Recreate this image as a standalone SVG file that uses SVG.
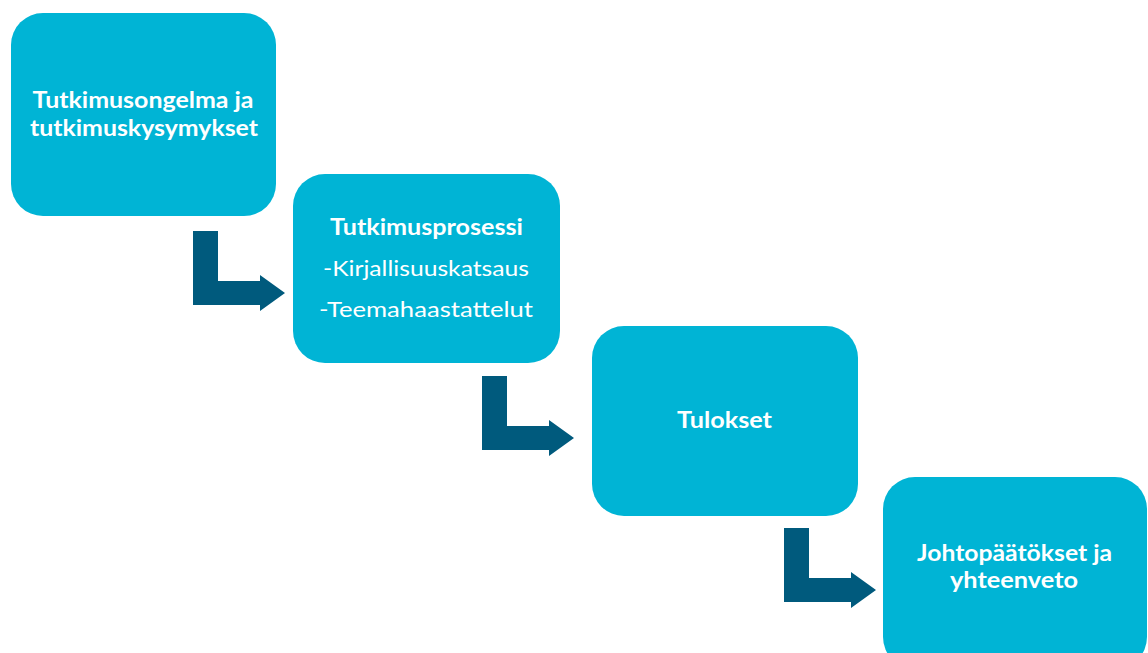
<svg xmlns="http://www.w3.org/2000/svg" xmlns:xlink="http://www.w3.org/1999/xlink" width="1148" height="653" viewBox="0 0 1148 653">
  <style>
    .box { fill: #00B4D5; }
    .arrow { fill: #005A7D; }
    .t { fill: #FFFFFF; font-family: Lato, "Open Sans", "Liberation Sans", sans-serif; font-size: 22px; text-anchor: middle; }
    .b { font-weight: bold; }
  </style>
  <defs>
    <path id="elbow" d="M0,0 H25 V50 H67 V44 L92,62 L67,80 V74 H0 Z"/>
  </defs>
  <rect width="1148" height="653" fill="#FFFFFF"/>
  <g id="connectors">
    <use xlink:href="#elbow" class="arrow" x="193" y="231"/>
    <use xlink:href="#elbow" class="arrow" x="482" y="376"/>
    <use xlink:href="#elbow" class="arrow" x="784" y="528"/>
  </g>
  <g id="node1">
    <rect class="box" x="11" y="13" width="265" height="203" rx="32" ry="32"/>
    <text class="t b" x="143" y="108" textLength="221" lengthAdjust="spacingAndGlyphs">Tutkimusongelma ja</text>
    <text class="t b" x="144" y="136" textLength="228" lengthAdjust="spacingAndGlyphs">tutkimuskysymykset</text>
  </g>
  <g id="node2">
    <rect class="box" x="293" y="174" width="267" height="189" rx="32" ry="32"/>
    <text class="t b" x="426.5" y="235" textLength="193" lengthAdjust="spacingAndGlyphs">Tutkimusprosessi</text>
    <text class="t" x="426" y="276" textLength="206" lengthAdjust="spacingAndGlyphs">-Kirjallisuuskatsaus</text>
    <text class="t" x="426" y="317" textLength="214" lengthAdjust="spacingAndGlyphs">-Teemahaastattelut</text>
  </g>
  <g id="node3">
    <rect class="box" x="592" y="326" width="266" height="190" rx="32" ry="32"/>
    <text class="t b" x="724.5" y="428" textLength="95" lengthAdjust="spacingAndGlyphs">Tulokset</text>
  </g>
  <g id="node4">
    <rect class="box" x="883" y="477" width="264" height="192" rx="32" ry="32"/>
    <text class="t b" x="1014.5" y="561" textLength="195" lengthAdjust="spacingAndGlyphs">Johtopäätökset ja</text>
    <text class="t b" x="1014" y="588" textLength="128" lengthAdjust="spacingAndGlyphs">yhteenveto</text>
  </g>
</svg>
